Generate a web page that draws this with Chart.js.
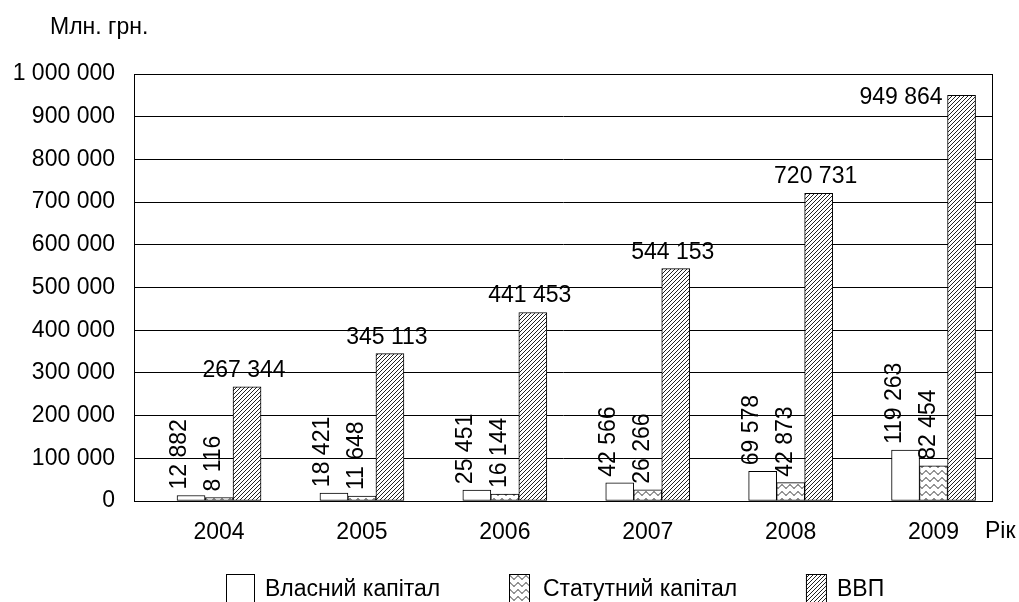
<!DOCTYPE html>
<html>
<head>
<meta charset="utf-8">
<script src="https://cdn.jsdelivr.net/npm/chart.js@4.4.0/dist/chart.umd.min.js"></script>
<style>
  html, body { margin: 0; padding: 0; background: #fff; }
  canvas { display: block; }
</style>
</head>
<body>
<canvas id="chart" width="1019" height="602"></canvas>
<script>
// Data
const years = [2004, 2005, 2006, 2007, 2008, 2009];
const ownCapital = [12882, 18421, 25451, 42566, 69578, 119263];
const charterCapital = [8116, 11648, 16144, 26266, 42873, 82454];
const gdp = [267344, 345113, 441453, 544153, 720731, 949864];
const seriesNames = ["Власний капітал", "Статутний капітал", "ВВП"];
const yTitle = "Млн. грн.";
const xTitle = "Рік";

const FONT = "'Liberation Sans', Arial, sans-serif";
const FONT_SIZE = 23;

Chart.defaults.font.family = FONT;
Chart.defaults.font.size = FONT_SIZE;
Chart.defaults.color = "#000";

function fmt(n) {
    return String(n).replace(/\B(?=(\d{3})+(?!\d))/g, " ");
}

// fill patterns
function hatchPattern(ctx) {
    const c = document.createElement("canvas");
    c.width = 4; c.height = 4;
    const g = c.getContext("2d");
    g.fillStyle = "#fff";
    g.fillRect(0, 0, 4, 4);
    g.strokeStyle = "#222";
    g.lineWidth = 1;
    g.beginPath();
    g.moveTo(-1, 5); g.lineTo(5, -1);
    g.moveTo(-1, 1); g.lineTo(1, -1);
    g.moveTo(3, 5); g.lineTo(5, 3);
    g.stroke();
    return ctx.createPattern(c, "repeat");
}

function wavePattern(ctx) {
    const c = document.createElement("canvas");
    c.width = 8; c.height = 7;
    const g = c.getContext("2d");
    g.fillStyle = "#fff";
    g.fillRect(0, 0, 8, 7);
    g.strokeStyle = "#222";
    g.lineWidth = 1;
    g.beginPath();
    for (let x = -1; x <= 9; x += 0.5) {
        const y = 3.5 + 1.7 * Math.sin(x / 8 * 2 * Math.PI);
        if (x === -1) g.moveTo(x, y); else g.lineTo(x, y);
    }
    g.stroke();
    return ctx.createPattern(c, "repeat");
}

const canvas = document.getElementById("chart");
const ctx = canvas.getContext("2d");
const fills = ["#ffffff", wavePattern(ctx), hatchPattern(ctx)];

// frame round the plot area
const framePlugin = {
    id: "frame",
    afterDatasetsDraw(chart) {
        const a = chart.chartArea;
        const c = chart.ctx;
        c.save();
        c.strokeStyle = "#000";
        c.lineWidth = 1;
        c.strokeRect(Math.round(a.left) + 0.5, Math.round(a.top) + 0.5,
            Math.round(a.right - a.left) - 1, Math.round(a.bottom - a.top));
        c.restore();
    }
};

// value labels: small series rotated, GDP horizontal above the bar
const valueLabels = {
    id: "valueLabels",
    afterDatasetsDraw(chart) {
        const c = chart.ctx;
        const area = chart.chartArea;
        c.save();
        c.fillStyle = "#000";
        c.font = FONT_SIZE + "px " + FONT;
        chart.data.datasets.forEach((ds, i) => {
            const meta = chart.getDatasetMeta(i);
            meta.data.forEach((bar, j) => {
                const text = fmt(ds.data[j].y);
                if (i < 2) {
                    c.save();
                    c.translate(bar.x + (i === 0 ? -11 : -5), bar.y - 6);
                    c.rotate(-Math.PI / 2);
                    c.textAlign = "left";
                    c.textBaseline = "middle";
                    c.fillText(text, 0, 0);
                    c.restore();
                } else {
                    const h = 17;
                    if (bar.y - 10 - h < area.top + 4) {
                        c.textAlign = "right";
                        c.textBaseline = "alphabetic";
                        c.fillText(text, bar.x - bar.width / 2 - 5, bar.y - 8 + h);
                    } else {
                        c.textAlign = "center";
                        c.textBaseline = "alphabetic";
                        c.fillText(text, bar.x - 3, bar.y - 10);
                    }
                }
            });
        });
        c.restore();
    }
};

// titles and legend
const extras = {
    id: "extras",
    afterDraw(chart) {
        const c = chart.ctx;
        c.save();
        c.fillStyle = "#000";
        c.font = FONT_SIZE + "px " + FONT;
        c.textBaseline = "alphabetic";
        c.textAlign = "left";
        c.fillText(yTitle, 50, 34);
        c.fillText(xTitle, 985, 538);

        // legend
        const top = 574, base = 596;
        const w1 = c.measureText(seriesNames[0]).width;
        const w2 = c.measureText(seriesNames[1]).width;
        const gap = 509 - (265 + w1);
        const items = [
            { x: 226, w: 28, tx: 265 },
            { x: 509, w: 20, tx: 543 },
            { x: 543 + w2 + gap, w: 20, tx: 543 + w2 + gap + 31 }
        ];
        items.forEach((it, i) => {
            c.fillStyle = fills[i];
            c.fillRect(it.x, top, it.w, 28);
            c.strokeStyle = "#000";
            c.lineWidth = 1;
            c.strokeRect(it.x + 0.5, top + 0.5, it.w, 28);
            c.fillStyle = "#000";
            c.fillText(seriesNames[i], it.tx, base);
        });
        c.restore();
    }
};

new Chart(canvas, {

    type: "bar",

    data: {

        datasets: [ownCapital, charterCapital, gdp].map((vals, i) => ({

            label: seriesNames[i],

            data: vals.map((v, j) => ({ x: years[j], y: v })),

            backgroundColor: fills[i],

            borderColor: "#000",

            borderWidth: 1,

            borderSkipped: false,

            barThickness: 28

        }))

    },

    options: {

        responsive: false,

        animation: false,

        devicePixelRatio: 1,

        layout: {

            padding: { left: 0, top: 74, right: 26, bottom: 0 }

        },

        plugins: {

            legend: { display: false },

            tooltip: { enabled: false }

        },

        scales: {

            x: {

                type: "linear",

                offset: false,

                min: 2003.405,

                max: 2009.416,

                grid: { display: false },

                border: { display: false },

                afterBuildTicks: s => { s.ticks = years.map(v => ({ value: v })); },

                afterFit: s => { s.height = 101; },

                ticks: {

                    color: "#000",

                    padding: 10,

                    maxRotation: 0,

                    autoSkip: false,

                    callback: v => String(v)

                }

            },

            y: {

                min: 0,

                max: 1000000,

                grid: { color: "#000", lineWidth: 1, drawTicks: false },

                border: { display: false },

                afterFit: s => { s.width = 134; },

                ticks: {

                    stepSize: 100000,

                    padding: 19,

                    color: "#000",

                    callback: v => fmt(v)

                }

            }

        }

    },

    plugins: [framePlugin, valueLabels, extras]

});
</script>
</body>
</html>
